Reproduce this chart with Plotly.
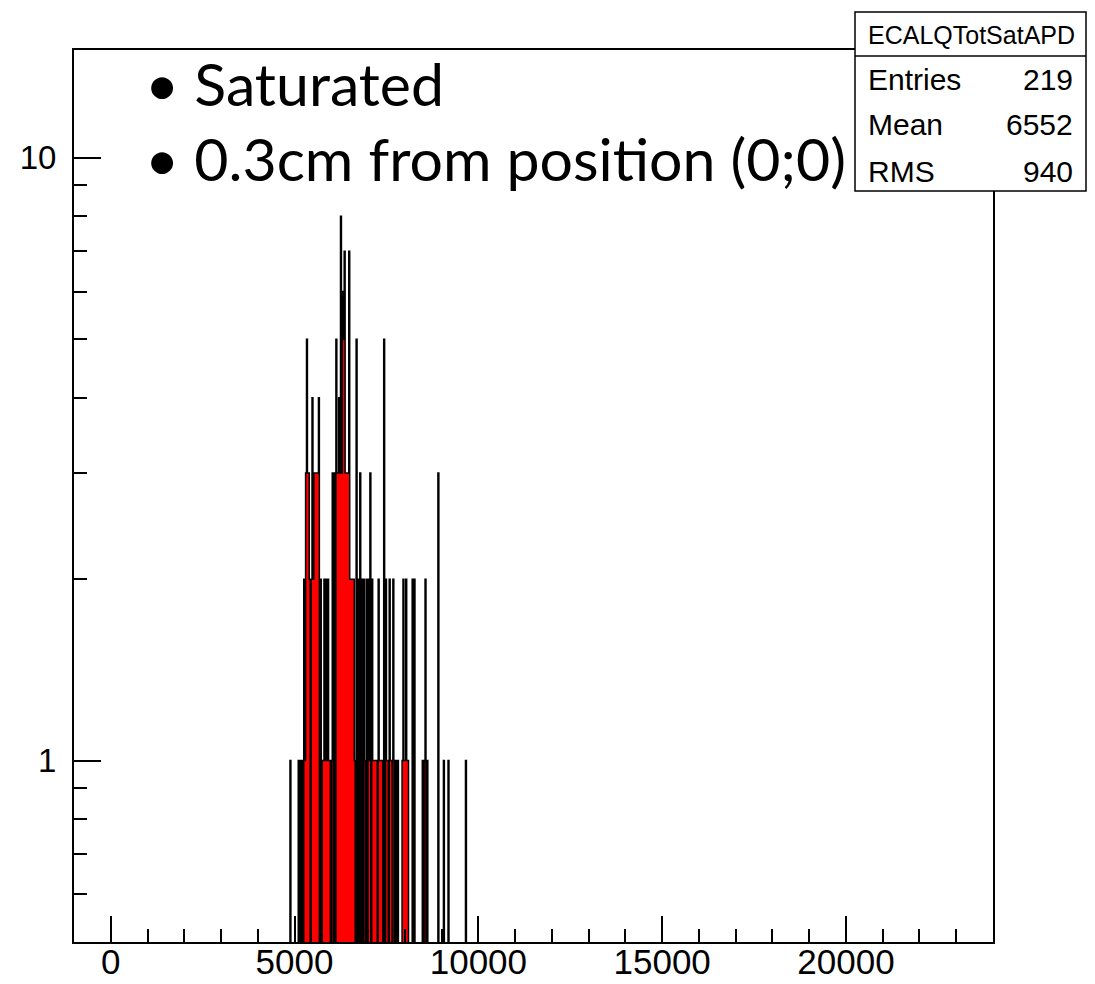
import numpy as np
import plotly.graph_objects as go

# ---------------- data ----------------
BIN_WIDTH = 25
RANGE_LO, RANGE_HI = 4800, 9800
bin_left = [
    4875,
    5100, 5150, 5200, 5250, 5275,
    5300, 5325, 5350, 5375, 5400, 5450,
    5475, 5500, 5525, 5550, 5575, 5600, 5625, 5650,
    5700,
    5750, 5775, 5800, 5825, 5850, 5875, 5900, 5925, 5950, 6000,
    6025, 6075,
    6125, 6150, 6175, 6200, 6225, 6250, 6275, 6300, 6325, 6350, 6375, 6400, 6425, 6450, 6475,
    6500, 6525, 6550, 6575, 6600,
    6625, 6675, 6725, 6775, 6825, 6875, 6900, 6950,
    7000, 7025, 7050, 7100, 7125, 7150, 7175, 7200, 7225, 7275, 7300, 7325, 7350, 7375,
    7425, 7475, 7500, 7525, 7575, 7600, 7625, 7675,
    7700, 7750, 7800,
    7925, 7950, 7975, 8000, 8025, 8050, 8075,
    8200, 8250,
    8475, 8525, 8550, 8600,
    8900, 9050, 9175, 9650,
]
bin_count = [
    1,
    1, 1, 1, 2, 1,
    3, 5, 3, 3, 2, 2,
    4, 2, 3, 3, 3, 3, 3, 4,
    2,
    1, 1, 2, 1, 2, 1, 2, 1, 1, 1,
    3, 3,
    5, 3, 3, 4, 3, 8, 3, 6, 5, 7, 3, 3, 3, 3, 7,
    2, 2, 2, 2, 2,
    1, 5, 2, 3, 2, 2, 1, 2,
    2, 1, 3, 2, 1, 1, 1, 1, 1, 2, 1, 1, 1, 1,
    5, 2, 1, 1, 2, 1, 1, 2,
    1, 1, 1,
    1, 2, 1, 1, 2, 1, 1,
    2, 2,
    1, 1, 2, 1,
    3, 1, 1, 1,
]
hist_name = "ECALQTotSatAPD"
stat_labels = ["Entries", "Mean", "RMS"]
stat_values = ["219", "6552", "940"]
legend_lines = ["\u2022 Saturated", "\u2022 0.3cm from position (0;0)"]
x_ticks = [0, 5000, 10000, 15000, 20000]
x_ticktext = ["0", "5000", "10000", "15000", "20000"]
y_ticks = [1, 10]
y_ticktext = ["1", "10"]
y_minor = [0.6, 0.7, 0.8, 0.9, 2, 3, 4, 5, 6, 7, 8, 9]

# ---------------- build step outline ----------------
edges = np.arange(RANGE_LO, RANGE_HI + BIN_WIDTH, BIN_WIDTH)
counts = np.zeros(len(edges) - 1)
for lo, c in zip(bin_left, bin_count):
    counts[int(round((lo - RANGE_LO) / BIN_WIDTH))] = c
ystep = np.where(counts > 0, counts, 1e-3)
ystep = np.append(ystep, ystep[-1])

W, H = 1095, 984
ML, MR, MT, MB = 74, 102, 50, 42
PW, PH = W - ML - MR, H - MT - MB


def px(x):
    return (x - ML) / PW


def py(y):
    return (H - MB - y) / PH


fig = go.Figure()
fig.add_trace(go.Scatter(
    x=edges, y=ystep, mode="lines", line=dict(shape="hv", color="black", width=1.5),
    fill="tozeroy", fillcolor="#ff0000", hoverinfo="skip", showlegend=False,
))

FONT = "Liberation Sans, Arial, Helvetica, sans-serif"

fig.update_xaxes(
    range=[-1000, 24000], tickmode="array", tickvals=x_ticks, ticktext=x_ticktext,
    ticks="inside", ticklen=26, tickwidth=1.5, tickcolor="black",
    showline=True, linewidth=2, linecolor="black", mirror=True,
    showgrid=False, zeroline=False, automargin=False, ticklabelstandoff=-12,
    tickfont=dict(family=FONT, size=35, color="black"),
    minor=dict(dtick=1000, tick0=0, ticks="inside", ticklen=13, tickwidth=1.5,
               tickcolor="black", showgrid=False),
)
fig.update_yaxes(
    type="log", range=[np.log10(0.5), np.log10(15.1)], tickmode="array",
    tickvals=y_ticks, ticktext=y_ticktext,
    ticks="inside", ticklen=27, tickwidth=1.5, tickcolor="black",
    showline=True, linewidth=2, linecolor="black", mirror=True,
    showgrid=False, zeroline=False, automargin=False, ticklabelstandoff=9,
    tickfont=dict(family=FONT, size=33, color="black"),
    minor=dict(tickmode="array", tickvals=y_minor, ticks="inside", ticklen=13,
               tickwidth=1.5, tickcolor="black", showgrid=False),
)

shapes = [
    dict(type="rect", xref="paper", yref="paper", x0=px(855), x1=px(1086),
         y0=py(191), y1=py(12), line=dict(color="black", width=1.5),
         fillcolor="white", layer="above"),
    dict(type="line", xref="paper", yref="paper", x0=px(855), x1=px(1086),
         y0=py(56), y1=py(56), line=dict(color="black", width=1.5), layer="above"),
]
annotations = [
    dict(text=hist_name, xref="paper", yref="paper", x=px(971), y=py(35),
         xanchor="center", yanchor="middle", showarrow=False,
         font=dict(family=FONT, size=25, color="black")),
]
for i, (lab, val) in enumerate(zip(stat_labels, stat_values)):
    yy = py(79 + 46 * i)
    annotations.append(dict(text=lab, xref="paper", yref="paper", x=px(866), y=yy,
                            xanchor="left", yanchor="middle", showarrow=False,
                            font=dict(family=FONT, size=30, color="black")))
    annotations.append(dict(text=val, xref="paper", yref="paper", x=px(1075), y=yy,
                            xanchor="right", yanchor="middle", showarrow=False,
                            font=dict(family=FONT, size=30, color="black")))
for i, line in enumerate(legend_lines):
    annotations.append(dict(text=line, xref="paper", yref="paper", x=px(143),
                            y=py(83 + 76 * i), xanchor="left", yanchor="middle",
                            showarrow=False,
                            font=dict(family="Lato, sans-serif", size=59, color="black")))

fig.update_layout(
    width=W, height=H, margin=dict(l=ML, r=MR, t=MT, b=MB, pad=0),
    paper_bgcolor="white", plot_bgcolor="white",
    shapes=shapes, annotations=annotations, showlegend=False,
)
fig.write_html("out.html")
